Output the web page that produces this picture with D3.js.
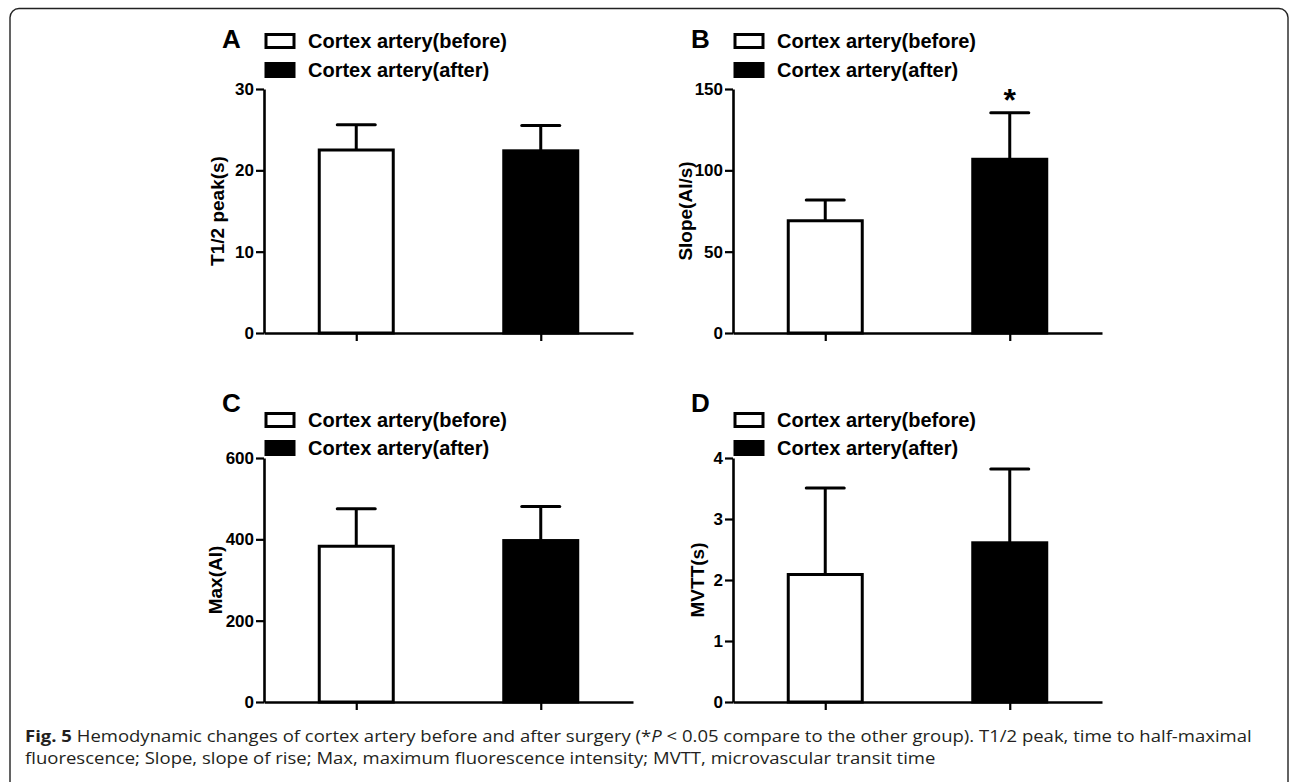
<!DOCTYPE html>
<html>
<head>
<meta charset="utf-8">
<script src="https://cdn.jsdelivr.net/npm/d3@7"></script>
<style>
  html, body { margin: 0; padding: 0; background: #fff; }
  svg { display: block; }
  .ax text { font-family: "Liberation Sans", Arial, sans-serif; font-weight: bold; font-size: 17px; fill: #000; }
</style>
</head>
<body>
<svg id="fig" width="1290" height="782"></svg>
<script>
// Groups compared in every panel
const groups = ["Cortex artery(before)", "Cortex artery(after)"];
const groupFill = ["#ffffff", "#000000"];

// Panel letters and y-axis titles
const panelLetters = ["A", "B", "C", "D"];
const yTitles = ["T1/2 peak(s)", "Slope(AI/s)", "Max(AI)", "MVTT(s)"];

// Mean values per panel (before, after)
const t12Mean   = [22.5, 22.4];
const slopeMean = [69.0, 106.8];
const maxMean   = [383, 397];
const mvttMean  = [2.09, 2.61];

// Upper error (SD) per panel (before, after)
const t12Err   = [3.1, 3.1];
const slopeErr = [12.8, 28.6];
const maxErr   = [92, 84];
const mvttErr  = [1.42, 1.21];

// Y-axis tick values per panel
const t12Ticks   = [0, 10, 20, 30];
const slopeTicks = [0, 50, 100, 150];
const maxTicks   = [0, 200, 400, 600];
const mvttTicks  = [0, 1, 2, 3, 4];

// Significance marks above each bar
const t12Sig   = ["", ""];
const slopeSig = ["", "*"];
const maxSig   = ["", ""];
const mvttSig  = ["", ""];

const captionBold = "Fig. 5";
const captionLine1a = " Hemodynamic changes of cortex artery before and after surgery (*";
const captionItalic = "P";
const captionLine1b = " < 0.05 compare to the other group). T1/2 peak, time to half-maximal";
const captionLine2 = "fluorescence; Slope, slope of rise; Max, maximum fluorescence intensity; MVTT, microvascular transit time";

const panels = [
  { mean: t12Mean,   err: t12Err,   ticks: t12Ticks,   sig: t12Sig },
  { mean: slopeMean, err: slopeErr, ticks: slopeTicks, sig: slopeSig },
  { mean: maxMean,   err: maxErr,   ticks: maxTicks,   sig: maxSig },
  { mean: mvttMean,  err: mvttErr,  ticks: mvttTicks,  sig: mvttSig }
];

// Layout of the 2x2 grid
const layout = [
  { x0: 264, dy: 0,   titleX: 217 },
  { x0: 733, dy: 0,   titleX: 685 },
  { x0: 264, dy: 369, titleX: 215 },
  { x0: 733, dy: 369, titleX: 697 }
];
const plotW = 369, yTop = 89, yBottom = 333;
const barW = 74, capW = 38;

const svg = d3.select("#fig");

// Rounded figure frame
svg.append("rect")
  .attr("x", 10).attr("y", 8.5)
  .attr("width", 1278).attr("height", 800)
  .attr("rx", 9).attr("ry", 9)
  .attr("fill", "none").attr("stroke", "#222").attr("stroke-width", 1.4);

const sans = '"Liberation Sans", Arial, sans-serif';

panels.forEach((p, i) => {
  const L = layout[i];
  const g = svg.append("g").attr("transform", `translate(0,${L.dy})`);

  const x = d3.scalePoint().domain(groups).range([L.x0, L.x0 + plotW]).padding(0.5);
  const y = d3.scaleLinear().domain([0, p.ticks[p.ticks.length - 1]]).range([yBottom, yTop]);

  const data = groups.map((gname, k) => ({ g: gname, v: p.mean[k], e: p.err[k], s: p.sig[k], fill: groupFill[k] }));

  // Error bars (upper only)
  g.selectAll(".eb").data(data).enter().append("line")
    .attr("x1", d => x(d.g)).attr("x2", d => x(d.g))
    .attr("y1", d => y(d.v)).attr("y2", d => y(d.v + d.e))
    .attr("stroke", "#000").attr("stroke-width", 3);
  g.selectAll(".cap").data(data).enter().append("line")
    .attr("x1", d => x(d.g) - capW / 2).attr("x2", d => x(d.g) + capW / 2)
    .attr("y1", d => y(d.v + d.e)).attr("y2", d => y(d.v + d.e))
    .attr("stroke", "#000").attr("stroke-width", 3).attr("stroke-linecap", "round");

  // Bars
  g.selectAll(".bar").data(data).enter().append("rect")
    .attr("x", d => x(d.g) - barW / 2)
    .attr("y", d => y(d.v))
    .attr("width", barW)
    .attr("height", d => y(0) - y(d.v))
    .attr("fill", d => d.fill)
    .attr("stroke", "#000").attr("stroke-width", 3);

  // Significance marks
  g.selectAll(".sig").data(data.filter(d => d.s)).enter().append("text")
    .attr("x", d => x(d.g)).attr("y", d => y(d.v + d.e) - 2)
    .attr("text-anchor", "middle")
    .style("font-family", sans).style("font-weight", "bold").style("font-size", "32px")
    .text(d => d.s);

  // Y axis
  const ya = g.append("g").attr("class", "ax").attr("transform", `translate(${L.x0},0)`)
    .call(d3.axisLeft(y).tickValues(p.ticks).tickSize(8).tickSizeOuter(0).tickPadding(2).tickFormat(d3.format("d")));
  ya.select(".domain").attr("stroke", "#000").attr("stroke-width", 2.6);
  ya.selectAll(".tick line").attr("stroke", "#000").attr("stroke-width", 2.2);

  // X axis
  const xa = g.append("g").attr("class", "ax").attr("transform", `translate(0,${yBottom})`)
    .call(d3.axisBottom(x).tickSize(8).tickSizeOuter(0).tickFormat(""));
  xa.select(".domain").attr("stroke", "#000").attr("stroke-width", 2.6);
  xa.selectAll(".tick line").attr("stroke", "#000").attr("stroke-width", 2.2);

  // Y axis title
  g.append("text")
    .attr("transform", `translate(${L.titleX},${(yTop + yBottom) / 2}) rotate(-90)`)
    .attr("text-anchor", "middle").attr("dominant-baseline", "central")
    .style("font-family", sans).style("font-weight", "bold").style("font-size", "19px")
    .text(yTitles[i]);

  // Panel letter
  const letterY = i < 2 ? 48 : 43;
  g.append("text")
    .attr("x", L.x0 - 42).attr("y", letterY)
    .style("font-family", sans).style("font-weight", "bold").style("font-size", "26px")
    .text(panelLetters[i]);

  // Legend
  const legY = i < 2 ? [33, 62] : [43, 71];
  const legX = L.x0 + 2;
  groups.forEach((gname, k) => {
    g.append("rect")
      .attr("x", legX).attr("y", legY[k] + 1.5)
      .attr("width", 28).attr("height", 13)
      .attr("fill", groupFill[k]).attr("stroke", "#000").attr("stroke-width", 3);
    g.append("text")
      .attr("x", legX + 42).attr("y", legY[k] + 15)
      .style("font-family", sans).style("font-weight", "bold").style("font-size", "20px")
      .text(gname);
  });
});

// Caption, widened slightly to span the frame
const capFont = '"Open Sans", "Noto Sans", sans-serif';
const c1 = svg.append("text")
  .style("font-family", capFont).style("font-size", "16px").style("fill", "#231f20");
c1.append("tspan").style("font-weight", "bold").text(captionBold);
c1.append("tspan").text(captionLine1a);
c1.append("tspan").style("font-style", "italic").text(captionItalic);
c1.append("tspan").text(captionLine1b);
const c2 = svg.append("text")
  .style("font-family", capFont).style("font-size", "16px").style("fill", "#231f20")
  .text(captionLine2);
const sx = (1252 - 25) / c1.node().getComputedTextLength();
c1.attr("transform", `translate(25,742) scale(${sx},1)`);
c2.attr("transform", `translate(25,764) scale(${sx},1)`);
</script>
</body>
</html>
